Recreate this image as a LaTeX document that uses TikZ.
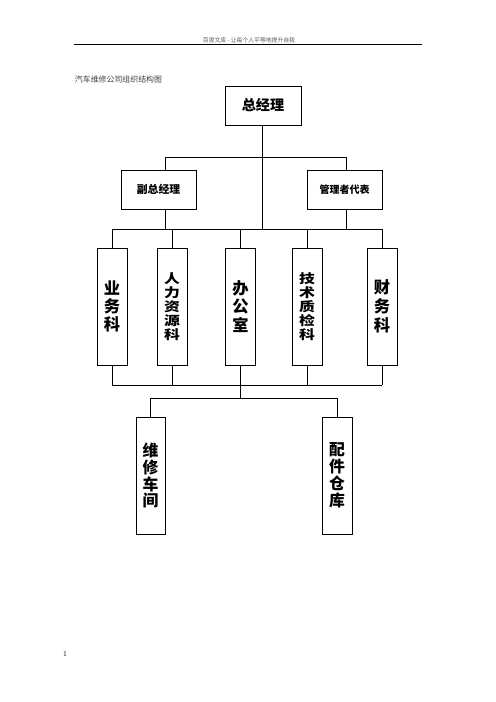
\documentclass[tikz,border=0pt]{standalone}
\usepackage{fontspec}
\usepackage{graphicx}
\newfontfamily\cjk{Noto Sans CJK SC}
\tikzset{
  box/.style={draw, line width=0.8pt, inner sep=0pt, align=center, font=\cjk\bfseries},
  hbox/.style={box, minimum width=75*1.2pt, minimum height=39*1.2pt},
  vbox/.style={box, minimum width=30*1.2pt, minimum height=117*1.2pt},
  conn/.style={line width=0.8pt}
}
\begin{document}
\begin{tikzpicture}[x=1.2pt, y=-1.2pt]
\useasboundingbox (0,0) rectangle (496,702);
% header
\node[font=\cjk\fontsize{7}{8}\selectfont, text=black!65] (hdr) at (249,40) {百度文库 - 让每个人平等地提升自我};
\coordinate (hl) at (74,44.5);
\coordinate (hr) at (422,44.5);
\draw[line width=0.7pt] (hl) -- (hr);
\node[font=\cjk\fontsize{9.5}{11}\selectfont, text=black!75, anchor=west] (title) at (72,79) {汽车维修公司组织结构图};
% level 1 and 2
\node[hbox, minimum width=76*1.2pt, font=\cjk\bfseries\fontsize{17}{19}\selectfont] (gm) at (263,105.5) {总经理};
\node[hbox, font=\cjk\bfseries\fontsize{13}{15}\selectfont] (vp) at (158.5,189.5) {副总经理};
\node[hbox, font=\cjk\bfseries\fontsize{12}{14}\selectfont] (mr) at (344.5,189.5) {管理者代表};
% level 3
\node[vbox, font=\cjk\bfseries\fontsize{19.5}{21.5}\selectfont] (ywk) at (112,306.5) {业\\务\\科};
\node[vbox, font=\cjk\bfseries\fontsize{19}{20}\selectfont] (rlz) at (172,306.5) {\scalebox{1}[0.8]{\shortstack{人\\力\\资\\源\\科}}};
\node[vbox, font=\cjk\bfseries\fontsize{19.5}{22.5}\selectfont] (bgs) at (240.5,306.5) {办\\公\\室};
\node[vbox, font=\cjk\bfseries\fontsize{19}{20}\selectfont] (jsz) at (307,306.5) {\scalebox{1}[0.8]{\shortstack{技\\术\\质\\检\\科}}};
\node[vbox, font=\cjk\bfseries\fontsize{19.5}{22.5}\selectfont] (cwk) at (382,306.5) {财\\务\\科};
% level 4
\node[vbox, minimum width=29*1.2pt, font=\cjk\bfseries\fontsize{19}{20.3}\selectfont] (wx) at (150.5,475.5) {维\\修\\车\\间};
\node[vbox, font=\cjk\bfseries\fontsize{19}{20.3}\selectfont] (pj) at (337,475.5) {配\\件\\仓\\库};
% page number
\node[font=\fontsize{9}{10}\selectfont] (pg) at (65,654) {1};
% junction levels
\coordinate (h1) at (0,157);
\coordinate (h2) at (0,229);
\coordinate (h3) at (0,385);
\coordinate (h4) at (0,398);
\coordinate (vx) at (165,0);
\coordinate (mx) at (346,0);
\coordinate (cx) at (262,0);
% connectors level 1-2
\draw[conn] (gm.south -| cx) -- (cx |- h2);
\draw[conn] (vx |- h1) -- (mx |- h1);
\draw[conn] (vx |- h1) -- (vx |- vp.north);
\draw[conn] (mx |- h1) -- (mx |- mr.north);
\draw[conn] (vx |- vp.south) -- (vx |- h2);
\draw[conn] (mx |- mr.south) -- (mx |- h2);
% level 3 top bus
\draw[conn] (ywk.north |- h2) -- (cwk.north |- h2);
\foreach \n in {ywk,rlz,bgs,jsz,cwk} {\draw[conn] (\n.north) -- (\n.north |- h2);}
% level 3 bottom bus
\draw[conn] (ywk.south |- h3) -- (cwk.south |- h3);
\foreach \n in {ywk,rlz,bgs,jsz,cwk} {\draw[conn] (\n.south) -- (\n.south |- h3);}
\draw[conn] (bgs.south |- h3) -- (bgs.south |- h4);
% level 4 bus
\draw[conn] (wx.north |- h4) -- (pj.north |- h4);
\draw[conn] (wx.north) -- (wx.north |- h4);
\draw[conn] (pj.north) -- (pj.north |- h4);
\end{tikzpicture}
\end{document}
